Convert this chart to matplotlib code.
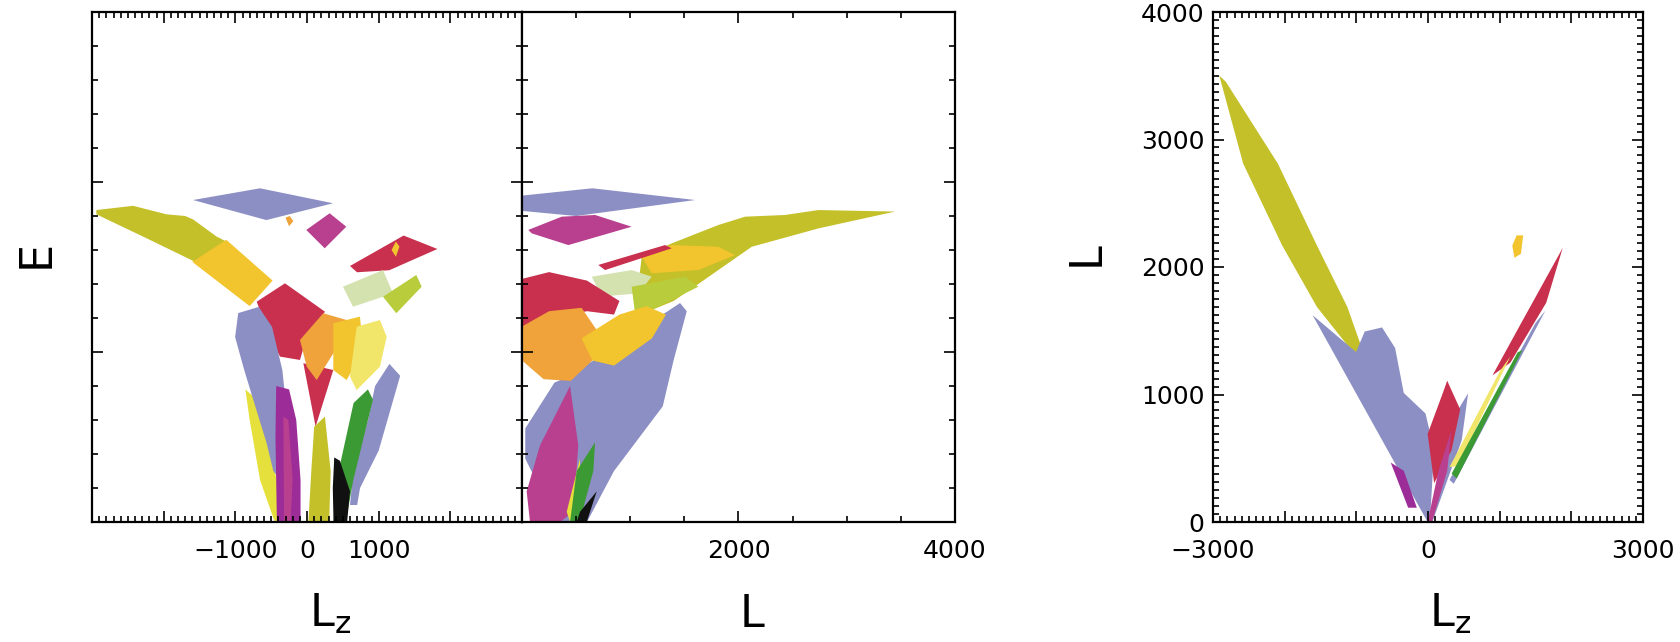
import matplotlib
matplotlib.use("Agg")
import matplotlib.pyplot as plt
from matplotlib.ticker import MultipleLocator

plt.rcParams["font.family"] = ["DejaVu Sans"]

# colours of the orbit families
lavender = "#8c8fc4"
olive = "#c4c02a"
gold = "#f2c42e"
crimson = "#c8304e"
magenta = "#b8408e"
orange = "#f0a33a"
sage = "#d4e2b0"
ygreen = "#b8cc3c"
paleyellow = "#f2e66a"
yellow = "#e6e03c"
green = "#3c9a34"
purple = "#9c2c98"
black = "#111111"

# ---- panel 1 : E vs Lz  (vertices as (Lz, E)) ----
p1_olive = [(-2939, 1.835), (-2427, 1.86), (-1963, 1.81), (-1700, 1.80), (-1590, 1.78),
            (-1265, 1.68), (-1126, 1.65), (-1560, 1.53), (-2194, 1.66), (-2939, 1.81)]
p1_gold = [(-1126, 1.66), (-480, 1.42), (-800, 1.27), (-1600, 1.53)]
p1_lav_top = [(-1590, 1.894), (-656, 1.963), (363, 1.875), (-567, 1.776)]
p1_orange_dot = [(-300, 1.79), (-241, 1.80), (-190, 1.77), (-250, 1.74)]
p1_magenta = [(-10, 1.718), (316, 1.816), (548, 1.737), (247, 1.61)]
p1_crimson_band = [(600, 1.506), (1348, 1.685), (1820, 1.606), (1148, 1.481), (698, 1.469)]
p1_yellow_spot = [(1180, 1.60), (1240, 1.65), (1290, 1.62), (1240, 1.56)]
p1_sage = [(502, 1.384), (1060, 1.482), (1200, 1.345), (642, 1.266)]
p1_ygreen = [(1060, 1.325), (1525, 1.453), (1600, 1.384), (1246, 1.228)]
p1_crimson_block = [(-702, 1.296), (-307, 1.404), (251, 1.237), (-4, 1.090), (-98, 0.953),
                    (-377, 0.973), (-516, 1.090)]
p1_crimson_tail = [(-51, 0.934), (367, 0.894), (120, 0.561)]
p1_orange = [(-98, 1.071), (227, 1.228), (553, 1.188), (367, 0.992), (135, 0.835), (-4, 0.914)]
p1_gold2 = [(367, 1.169), (739, 1.208), (785, 1.012), (553, 0.835), (367, 0.894)]
p1_pale = [(693, 1.149), (1018, 1.188), (1112, 1.090), (1018, 0.914), (693, 0.776), (600, 0.855)]
p1_yellow = [(-860, 0.78), (-700, 0.72), (-420, 0.247), (-330, 0), (-450, 0), (-655, 0.247),
             (-800, 0.6)]
p1_lav_left = [(-960, 1.229), (-674, 1.265), (-487, 1.147), (-344, 0.894), (-300, 0.718),
               (-330, 0.463), (-380, 0.25), (-470, 0.3), (-563, 0.463), (-749, 0.718),
               (-880, 0.9), (-1003, 1.088)]
p1_purple = [(-430, 0.80), (-250, 0.78), (-150, 0.60), (-90, 0.247), (-90, 0), (-420, 0),
             (-440, 0.5)]
p1_magenta_strip = [(-330, 0.62), (-260, 0.60), (-200, 0.25), (-230, 0), (-320, 0)]
p1_lav_right = [(950, 0.80), (1150, 0.93), (1300, 0.86), (1000, 0.42), (740, 0.2), (700, 0.10),
                (600, 0.1), (646, 0.3), (850, 0.6)]
p1_green = [(650, 0.70), (850, 0.78), (920, 0.72), (646, 0.247), (540, 0), (370, 0), (414, 0.247)]
p1_olive_center = [(100, 0.56), (250, 0.62), (330, 0.3), (310, 0), (20, 0), (60, 0.3)]
p1_black = [(380, 0.38), (460, 0.36), (600, 0.18), (560, 0), (370, 0), (360, 0.2)]

panel1 = [(p1_olive, olive), (p1_gold, gold), (p1_lav_top, lavender), (p1_orange_dot, orange),
          (p1_magenta, magenta), (p1_crimson_band, crimson), (p1_yellow_spot, gold),
          (p1_sage, sage), (p1_ygreen, ygreen), (p1_crimson_block, crimson),
          (p1_crimson_tail, crimson), (p1_orange, orange), (p1_gold2, gold),
          (p1_pale, paleyellow), (p1_yellow, yellow), (p1_lav_left, lavender),
          (p1_purple, purple), (p1_magenta_strip, magenta), (p1_lav_right, lavender),
          (p1_green, green), (p1_olive_center, olive), (p1_black, black)]

# ---- panel 2 : E vs L  (vertices as (L, E)) ----
p2_lav_top = [(0, 1.92), (650, 1.963), (1600, 1.894), (500, 1.80), (0, 1.83)]
p2_magenta = [(58, 1.718), (367, 1.796), (675, 1.806), (1013, 1.737), (428, 1.629), (90, 1.698)]
p2_olive = [(1106, 1.56), (1383, 1.639), (1814, 1.747), (2061, 1.796), (2430, 1.806),
            (2738, 1.835), (3446, 1.826), (2738, 1.727), (2122, 1.619), (1629, 1.40),
            (1400, 1.30), (1198, 1.247), (1044, 1.228)]
p2_gold_band = [(1106, 1.561), (1383, 1.629), (1814, 1.619), (1968, 1.57), (1629, 1.482),
                (1198, 1.463)]
p2_crimson_thin = [(705, 1.512), (1321, 1.629), (1383, 1.61), (767, 1.482)]
p2_sage = [(644, 1.443), (1013, 1.482), (1198, 1.443), (1075, 1.345), (736, 1.326)]
p2_ygreen = [(1013, 1.384), (1506, 1.443), (1629, 1.384), (1198, 1.247), (1044, 1.228)]
p2_lav_big = [(444, 0.86), (1460, 1.288), (1522, 1.24), (1400, 0.95), (1300, 0.68),
              (850, 0.3), (600, 0), (320, 0), (30, 0.373), (30, 0.55), (300, 0.82)]
p2_crimson = [(0, 1.43), (250, 1.47), (600, 1.42), (900, 1.30), (850, 1.22), (600, 1.24),
              (300, 1.20), (0, 1.13)]
p2_orange = [(0, 1.15), (250, 1.24), (550, 1.26), (700, 1.12), (650, 0.95), (450, 0.83),
             (200, 0.84), (0, 0.95)]
p2_gold = [(550, 1.08), (900, 1.22), (1150, 1.27), (1330, 1.22), (1200, 1.08), (850, 0.92),
           (650, 0.95)]
p2_magenta_petal = [(166, 0.45), (444, 0.80), (520, 0.45), (475, 0.06), (351, 0), (74, 0),
                    (43, 0.18)]
p2_yellow = [(413, 0.06), (536, 0.373), (536, 0.18), (444, 0)]
p2_green = [(505, 0.3), (675, 0.469), (659, 0.3), (536, 0.012), (444, 0)]
p2_black = [(536, 0.06), (690, 0.18), (598, 0), (505, 0)]

panel2 = [(p2_lav_top, lavender), (p2_magenta, magenta), (p2_olive, olive),
          (p2_gold_band, gold), (p2_crimson_thin, crimson), (p2_sage, sage),
          (p2_ygreen, ygreen), (p2_lav_big, lavender), (p2_crimson, crimson),
          (p2_orange, orange), (p2_gold, gold), (p2_magenta_petal, magenta),
          (p2_yellow, yellow), (p2_green, green), (p2_black, black)]

# ---- panel 3 : L vs Lz  (vertices as (Lz, L)) ----
p3_olive = [(-2912, 3501), (-2579, 2811), (-2034, 2168), (-1549, 1686), (-1004, 1301),
            (-944, 1397), (-1125, 1686), (-1549, 2168), (-2095, 2811), (-2821, 3453)]
p3_lav = [(-1610, 1622), (-1004, 1333), (-883, 1494), (-641, 1526), (-459, 1365),
          (-338, 1012), (-35, 851), (86, 562), (26, 0), (-5, 0)]
p3_purple = [(-520, 466), (-338, 402), (-156, 112), (-277, 112)]
p3_lav_right = [(420, 880), (560, 1010), (470, 640), (60, 0), (30, 0)]
p3_crimson = [(-5, 690), (207, 1012), (268, 1108), (449, 883), (328, 562), (86, 305)]
p3_magenta = [(-5, 0), (146, 401), (328, 723), (268, 401), (56, 0)]
p3_crimson_arm = [(900, 1150), (1300, 1560), (1880, 2150), (1650, 1720), (1150, 1250)]
p3_lav_arm = [(300, 330), (1500, 1560), (1640, 1660), (360, 300)]
p3_pale = [(300, 430), (1000, 1180), (1150, 1300), (420, 440)]
p3_green = [(330, 380), (1250, 1330), (1320, 1350), (400, 340)]
p3_gold = [(1176, 2168), (1237, 2248), (1328, 2248), (1297, 2104), (1206, 2072)]

panel3 = [(p3_olive, olive), (p3_lav, lavender), (p3_purple, purple),
          (p3_lav_right, lavender), (p3_crimson, crimson), (p3_magenta, magenta),
          (p3_lav_arm, lavender), (p3_crimson_arm, crimson), (p3_pale, paleyellow),
          (p3_green, green), (p3_gold, gold)]


def draw(ax, shapes):
    for pts, col in shapes:
        xs, ys = zip(*pts)
        ax.fill(xs, ys, color=col, lw=0)


def style(ax):
    ax.tick_params(which="both", direction="in", top=True, right=True, width=1.2,
                   labelsize=18, pad=12)
    ax.tick_params(which="major", length=8)
    ax.tick_params(which="minor", length=4)
    for s in ax.spines.values():
        s.set_linewidth(1.6)


fig = plt.figure(figsize=(16.81, 6.42), dpi=100)
W, H = 1681, 642
bottom = 1 - 522 / H
height = 510 / H

ax1 = fig.add_axes([92 / W, bottom, 430 / W, height])
ax2 = fig.add_axes([522 / W, bottom, 433 / W, height])
ax3 = fig.add_axes([1213 / W, bottom, 430 / W, height])

draw(ax1, panel1)
ax1.set_xlim(-3000, 3000)
ax1.set_ylim(0, 3)
ax1.set_xticks([-3000, -2000, -1000, 0, 1000, 2000, 3000])
ax1.set_xticklabels(["", "", "\u22121000", "0", "1000", "", ""])
ax1.xaxis.set_minor_locator(MultipleLocator(100))
ax1.set_yticks([0, 1, 2, 3])
ax1.set_yticklabels([])
ax1.yaxis.set_minor_locator(MultipleLocator(0.2))
style(ax1)

draw(ax2, panel2)
ax2.set_xlim(0, 4000)
ax2.set_ylim(0, 3)
ax2.set_xticks([0, 2000, 4000])
ax2.set_xticklabels(["", "2000", "4000"])
ax2.xaxis.set_minor_locator(MultipleLocator(500))
ax2.set_yticks([0, 1, 2, 3])
ax2.set_yticklabels([])
ax2.yaxis.set_minor_locator(MultipleLocator(0.2))
style(ax2)

draw(ax3, panel3)
ax3.set_xlim(-3000, 3000)
ax3.set_ylim(0, 4000)
ax3.set_xticks([-3000, -2000, -1000, 0, 1000, 2000, 3000])
ax3.set_xticklabels(["\u22123000", "", "", "0", "", "", "3000"])
ax3.xaxis.set_minor_locator(MultipleLocator(100))
ax3.set_yticks([0, 1000, 2000, 3000, 4000])
ax3.yaxis.set_minor_locator(MultipleLocator(62.5))
style(ax3)
ax3.tick_params(axis="y", pad=6)

lab = dict(fontsize=32)
fig.text(36 / W, 1 - 254 / H, "E", rotation=90, ha="center", va="center", **lab)
fig.text(330 / W, 1 - 627 / H, r"L$_\mathregular{z}$", ha="center", va="baseline", **lab)
fig.text(752 / W, 1 - 627 / H, "L", ha="center", va="baseline", **lab)
fig.text(1086 / W, 1 - 254 / H, "L", rotation=90, ha="center", va="center", **lab)
fig.text(1450 / W, 1 - 627 / H, r"L$_\mathregular{z}$", ha="center", va="baseline", **lab)

fig.savefig("out.png", dpi=100)
